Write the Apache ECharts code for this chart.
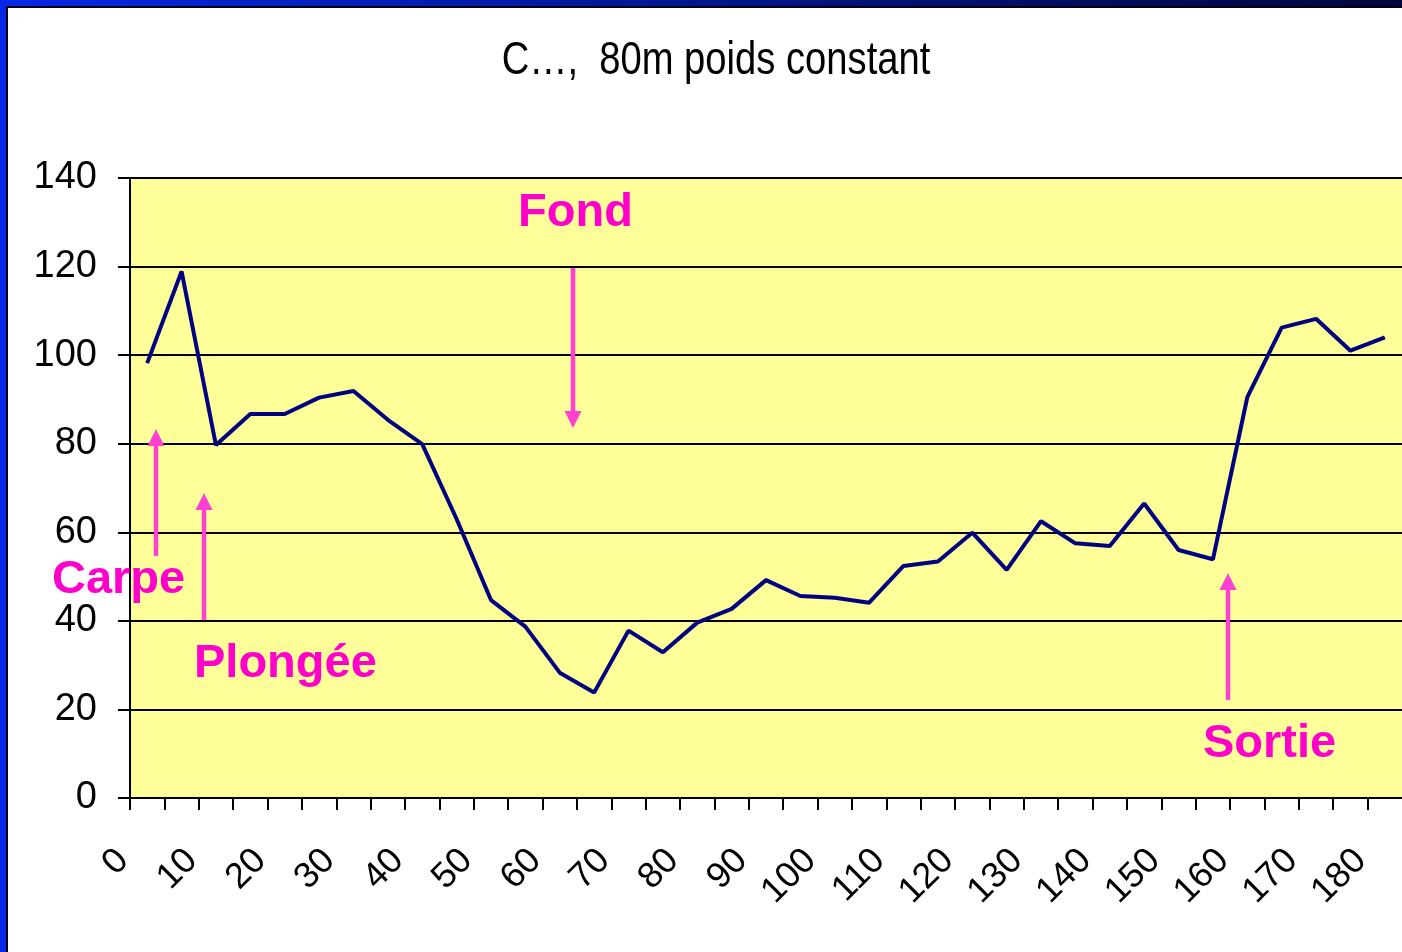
<!DOCTYPE html>
<html>
<head>
<meta charset="utf-8">
<title>80m poids constant</title>
<script src="https://cdn.jsdelivr.net/npm/echarts@6/dist/echarts.min.js"></script>
<style>
  html, body { margin: 0; padding: 0; background: #fff; }
  #main { width: 1402px; height: 952px; }
</style>
</head>
<body>
<div id="main"></div>
<script>
// temps (s) : une mesure toutes les 5 s
const temps = [0, 5, 10, 15, 20, 25, 30, 35, 40, 45, 50, 55, 60, 65, 70, 75, 80, 85, 90,
  95, 100, 105, 110, 115, 120, 125, 130, 135, 140, 145, 150, 155, 160, 165, 170, 175, 180];
// fréquence cardiaque
const frequence = [98.2, 118.9, 79.7, 86.7, 86.7, 90.4, 91.9, 85.4, 79.9, 63.0, 44.7, 38.7,
  28.3, 23.8, 37.8, 32.9, 39.6, 42.7, 49.2, 45.6, 45.2, 44.1, 52.4, 53.4, 59.9, 51.5, 62.5,
  57.5, 56.9, 66.5, 56.0, 53.9, 90.5, 106.2, 108.2, 101.0, 104.0];
const titre = "C…,  80m poids constant";

const rose = "#FF00CC";
const roseFleche = "#FF40D2";
const fontTxt = '"Liberation Sans", Arial, sans-serif';

// flèche verticale : x, y de départ, y de la pointe
function fleche(x, y0, y1) {
  const dir = y1 < y0 ? 1 : -1; // 1 = vers le haut
  const h = 17, w = 8.5;
  return [
    {
      type: "line",
      shape: { x1: x, y1: y0, x2: x, y2: y1 + dir * h },
      style: { stroke: roseFleche, lineWidth: 4.5 },
      z: 10,
    },
    {
      type: "polygon",
      shape: { points: [[x, y1], [x - w, y1 + dir * h], [x + w, y1 + dir * h]] },
      style: { fill: roseFleche },
      z: 10,
    },
  ];
}

function texte(txt, x, y) {
  return {
    type: "text",
    x: x,
    y: y,
    style: {
      text: txt,
      fill: rose,
      font: "bold 47px " + fontTxt,
      align: "left",
      verticalAlign: "middle",
    },
    z: 10,
  };
}

const chart = echarts.init(document.getElementById("main"));
chart.setOption({
  animation: false,
  backgroundColor: "#ffffff",
  grid: {
    left: 130,
    right: -4,
    top: 178,
    bottom: 154,
    show: true,
    backgroundColor: "#FFFF99",
    borderWidth: 0,
  },
  xAxis: [
    {
      // axe des catégories pour la courbe
      type: "category",
      data: temps,
      boundaryGap: true,
      show: false,
    },
    {
      // axe des graduations (toutes les 5 s, étiquettes toutes les 10 s)
      type: "value",
      position: "bottom",
      min: 0,
      max: 185,
      interval: 5,
      axisLine: { show: true, lineStyle: { color: "#000", width: 2 } },
      axisTick: { show: true, inside: false, length: 12, lineStyle: { color: "#000", width: 2 } },
      splitLine: { show: false },
      axisLabel: {
        rotate: 45,
        margin: 50,
        padding: [0, 10, 0, 0],
        fontSize: 36,
        fontFamily: fontTxt,
        color: "#000",
        showMaxLabel: false,
        formatter: function (v) {
          return v % 10 === 0 ? String(v) : "";
        },
      },
    },
  ],
  yAxis: {
    type: "value",
    min: 0,
    max: 140,
    interval: 20,
    axisLine: { show: true, lineStyle: { color: "#000", width: 2 } },
    axisTick: { show: true, inside: false, length: 12, lineStyle: { color: "#000", width: 2 } },
    splitLine: { show: true, lineStyle: { color: "#000", width: 2 } },
    axisLabel: {
      margin: 33,
      fontSize: 38,
      fontFamily: fontTxt,
      color: "#000",
    },
  },
  series: [
    {
      name: "Fréquence",
      type: "line",
      xAxisIndex: 0,
      yAxisIndex: 0,
      data: frequence,
      symbol: "none",
      lineStyle: { color: "#000080", width: 4 },
      z: 5,
    },
  ],
  graphic: [
    // cadre bleu de la diapositive
    {
      type: "rect",
      shape: { x: 0, y: 0, width: 1402, height: 6 },
      style: {
        fill: new echarts.graphic.LinearGradient(0, 0, 1, 0, [
          { offset: 0, color: "#0628E6" },
          { offset: 0.6, color: "#00147A" },
          { offset: 1, color: "#00063A" },
        ]),
      },
      z: 20,
    },
    { type: "rect", shape: { x: 6, y: 6, width: 1396, height: 2 }, style: { fill: "#000018" }, z: 20 },
    { type: "rect", shape: { x: 0, y: 0, width: 6, height: 952 }, style: { fill: "#0628E6" }, z: 20 },
    { type: "rect", shape: { x: 6, y: 6, width: 2, height: 946 }, style: { fill: "#000018" }, z: 20 },
    // titre (police étroite)
    {
      type: "text",
      x: 716,
      y: 61,
      scaleX: 0.83,
      scaleY: 1.02,
      style: {
        text: titre,
        fill: "#000",
        font: "46px " + fontTxt,
        align: "center",
        verticalAlign: "middle",
      },
      z: 10,
    },
    // annotations
    texte("Fond", 518, 213),
    texte("Carpe", 52, 580),
    texte("Plongée", 194, 664),
    texte("Sortie", 1203, 744),
    ...fleche(573, 268, 428),
    ...fleche(156, 556, 429),
    ...fleche(204, 620, 493),
    ...fleche(1228, 700, 573),
  ],
});
window.addEventListener("resize", function () {
  chart.resize();
});
</script>
</body>
</html>
